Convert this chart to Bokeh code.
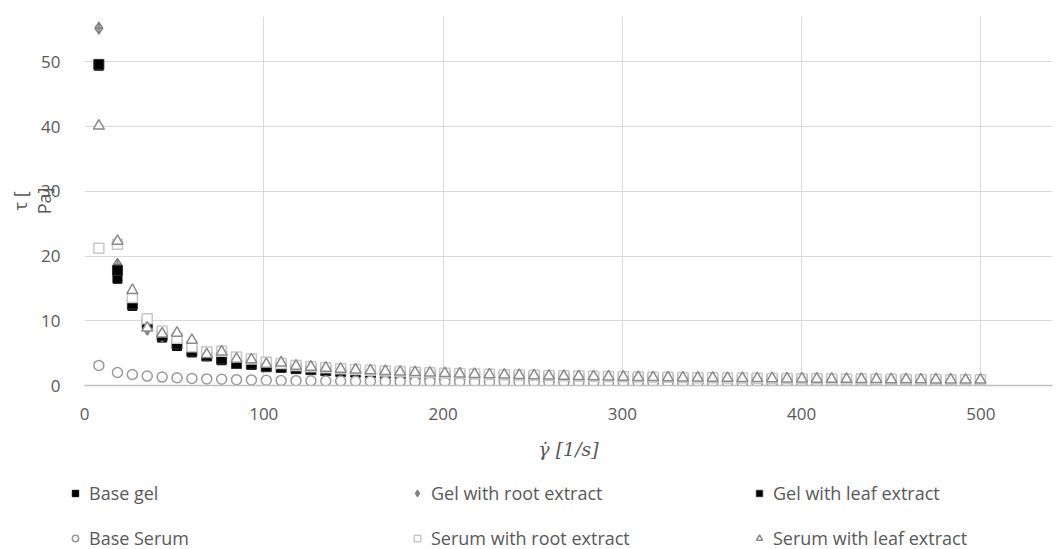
from bokeh.plotting import figure
from bokeh.models import Legend, LegendItem, FixedTicker, Range1d
from bokeh.embed import file_html
from bokeh.resources import INLINE

shear_rate = [8.0, 18.4, 26.7, 35.0, 43.3, 51.6, 59.9, 68.2, 76.5, 84.8,
              93.1, 101.4, 109.7, 118.0, 126.3, 134.6, 142.9, 151.2, 159.5, 167.8,
              176.1, 184.4, 192.7, 201.0, 209.3, 217.6, 225.9, 234.2, 242.5, 250.8,
              259.1, 267.4, 275.7, 284.0, 292.3, 300.6, 308.9, 317.2, 325.5, 333.8,
              342.1, 350.4, 358.7, 367.0, 375.3, 383.6, 391.9, 400.2, 408.5, 416.8,
              425.1, 433.4, 441.7, 450.0, 458.3, 466.6, 474.9, 483.2, 491.5, 499.8]

base_gel = [49.4, 16.5, 12.3, 9.3, 7.4, 6.1, 5.1, 4.5, 3.9, 3.5,
            3.2, 2.95, 2.75, 2.55, 2.4, 2.25, 2.12, 2.02, 1.93, 1.85,
            1.78, 1.71, 1.65, 1.59, 1.54, 1.49, 1.45, 1.41, 1.37, 1.33,
            1.29, 1.26, 1.23, 1.2, 1.17, 1.14, 1.11, 1.09, 1.06, 1.04,
            1.02, 1.0, 0.98, 0.96, 0.94, 0.92, 0.9, 0.88, 0.86, 0.85,
            0.83, 0.82, 0.8, 0.79, 0.78, 0.76, 0.75, 0.74, 0.73, 0.72]

gel_root = [55.2, 18.7, 13.1, 8.7, 7.6, 7.0, 5.6, 4.7, 4.6, 3.9,
            3.6, 3.3, 3.1, 2.9, 2.75, 2.6, 2.45, 2.33, 2.22, 2.12,
            2.03, 1.95, 1.88, 1.81, 1.75, 1.69, 1.64, 1.59, 1.54, 1.5,
            1.46, 1.42, 1.38, 1.35, 1.32, 1.29, 1.26, 1.23, 1.2, 1.18,
            1.15, 1.13, 1.11, 1.09, 1.07, 1.05, 1.03, 1.01, 0.99, 0.97,
            0.96, 0.94, 0.93, 0.91, 0.9, 0.88, 0.87, 0.86, 0.85, 0.84]

gel_leaf = [49.6, 17.8, 12.6, 9.6, 7.7, 6.4, 5.3, 4.6, 4.1, 3.4,
            3.3, 2.9, 2.8, 2.6, 2.45, 2.3, 2.18, 2.07, 1.98, 1.9,
            1.82, 1.75, 1.69, 1.63, 1.58, 1.53, 1.48, 1.44, 1.4, 1.36,
            1.32, 1.29, 1.26, 1.23, 1.2, 1.17, 1.14, 1.11, 1.09, 1.07,
            1.04, 1.02, 1.0, 0.98, 0.96, 0.95, 0.93, 0.91, 0.9, 0.88,
            0.87, 0.85, 0.84, 0.83, 0.81, 0.8, 0.79, 0.78, 0.77, 0.76]

base_serum = [3.1, 2.0, 1.7, 1.45, 1.3, 1.2, 1.1, 1.02, 0.96, 0.9,
              0.86, 0.82, 0.78, 0.75, 0.72, 0.7, 0.68, 0.66, 0.64, 0.62,
              0.61, 0.59, 0.58, 0.57, 0.56, 0.55, 0.54, 0.53, 0.52, 0.51,
              0.5, 0.49, 0.48, 0.48, 0.47, 0.46, 0.46, 0.45, 0.44, 0.44,
              0.43, 0.43, 0.42, 0.42, 0.41, 0.41, 0.4, 0.4, 0.39, 0.39,
              0.38, 0.38, 0.38, 0.37, 0.37, 0.36, 0.36, 0.36, 0.35, 0.35]

serum_root = [21.2, 21.8, 13.6, 10.3, 8.4, 7.3, 6.0, 5.2, 5.3, 4.4,
              4.1, 3.6, 3.4, 3.1, 2.9, 2.75, 2.6, 2.47, 2.35, 2.25,
              2.15, 2.06, 1.98, 1.91, 1.84, 1.78, 1.72, 1.67, 1.62, 1.57,
              1.53, 1.49, 1.45, 1.41, 1.38, 1.35, 1.32, 1.29, 1.26, 1.23,
              1.21, 1.18, 1.16, 1.14, 1.12, 1.1, 1.08, 1.06, 1.04, 1.02,
              1.0, 0.99, 0.97, 0.96, 0.94, 0.93, 0.92, 0.9, 0.89, 0.88]

serum_leaf = [40.1, 22.3, 14.7, 8.9, 8.0, 8.1, 7.0, 4.8, 5.2, 4.1,
              4.0, 3.3, 3.5, 3.0, 2.85, 2.7, 2.55, 2.42, 2.3, 2.2,
              2.1, 2.02, 1.94, 1.87, 1.8, 1.74, 1.68, 1.63, 1.58, 1.53,
              1.49, 1.45, 1.41, 1.38, 1.34, 1.31, 1.28, 1.25, 1.22, 1.2,
              1.17, 1.15, 1.13, 1.11, 1.09, 1.07, 1.05, 1.03, 1.01, 0.99,
              0.98, 0.96, 0.95, 0.93, 0.92, 0.91, 0.89, 0.88, 0.87, 0.86]

series_names = ["Base gel", "Gel with root extract", "Gel with leaf extract",
                "Base Serum", "Serum with root extract", "Serum with leaf extract"]
series_values = [base_gel, gel_root, gel_leaf, base_serum, serum_root, serum_leaf]
x_ticks = [0, 100, 200, 300, 400, 500]
y_ticks = [0, 10, 20, 30, 40, 50]

TEXT = "#595959"
FONT = "Open Sans"

styles = [
    dict(marker="square", size=9, fill_color="black", line_color="black"),
    dict(marker="diamond_cross", size=12, fill_color="#b0b0b0", line_color="#7f7f7f", line_width=1.2),
    dict(marker="square", size=10, fill_color="black", line_color="#333333"),
    dict(marker="circle", size=10, fill_color="white", line_color="#9a9a9a", line_width=1.5),
    dict(marker="square", size=10, fill_color="white", line_color="#c8c8c8", line_width=1.5),
    dict(marker="triangle", size=11, fill_color="white", line_color="#8a8a8a", line_width=1.5),
]

p = figure(width=1056, height=470, output_backend="svg", toolbar_location=None,
           x_range=Range1d(0, 540), y_range=Range1d(0, 57),
           min_border_left=84, min_border_right=4, min_border_top=16,
           min_border_bottom=85)
p.outline_line_color = None
p.background_fill_color = "white"
p.border_fill_color = "white"

p.xaxis.ticker = FixedTicker(ticks=x_ticks)
p.yaxis.ticker = FixedTicker(ticks=y_ticks)
p.xgrid.ticker = FixedTicker(ticks=x_ticks)
p.ygrid.ticker = FixedTicker(ticks=y_ticks)
p.xgrid.grid_line_color = "#d9d9d9"
p.ygrid.grid_line_color = "#d9d9d9"

for ax in (p.xaxis, p.yaxis):
    ax.major_tick_line_color = None
    ax.minor_tick_line_color = None
    ax.major_label_text_font = FONT
    ax.major_label_text_font_size = "17px"
    ax.major_label_text_color = TEXT
p.xaxis.axis_line_color = "#bfbfbf"
p.xaxis.axis_line_width = 1.5
p.yaxis.axis_line_color = None
p.xaxis.major_label_standoff = 16
p.yaxis.major_label_standoff = 18

p.xaxis.axis_label = "\u03b3\u0307 [1/s]"
p.xaxis.axis_label_text_font = "DejaVu Serif"
p.xaxis.axis_label_text_font_style = "italic"
p.xaxis.axis_label_text_font_size = "19px"
p.xaxis.axis_label_text_color = TEXT
p.xaxis.axis_label_standoff = 15

p.yaxis.axis_label = "\u03c4 [\nPa]"
p.yaxis.axis_label_text_font = FONT
p.yaxis.axis_label_text_font_style = "normal"
p.yaxis.axis_label_text_font_size = "18px"
p.yaxis.axis_label_text_line_height = 1.0
p.yaxis.axis_label_text_color = TEXT
p.yaxis.axis_label_standoff = -18

for vals, st in zip(series_values, styles):
    p.scatter(shear_rate, vals, **st)

# legend area: a second, axis-less figure placed under the chart
lg = figure(width=1056, height=79, output_backend="svg", toolbar_location=None,
            x_range=Range1d(-1000, -999), y_range=Range1d(-1000, -999),
            min_border_left=0, min_border_right=0, min_border_top=0,
            min_border_bottom=0)
lg.axis.visible = False
lg.grid.visible = False
lg.outline_line_color = None
lg.background_fill_color = "white"
lg.border_fill_color = "white"

items = []
for name, vals, st in zip(series_names, series_values, styles):
    # same data as the chart; this figure's ranges keep the points out of view
    r = lg.scatter(shear_rate, vals, **st)
    items.append(LegendItem(label=name, renderers=[r]))

legend = Legend(items=items, ncols=3, orientation="horizontal",
                location=(67, -1), spacing=21,
                glyph_width=16, glyph_height=22, label_standoff=6,
                label_width=299, label_height=22, padding=0, margin=0,
                label_text_font=FONT, label_text_font_size="18px",
                label_text_color=TEXT, border_line_color=None,
                background_fill_alpha=0)
lg.add_layout(legend, "center")

open("out.html", "w").write(file_html([p, lg], INLINE))
